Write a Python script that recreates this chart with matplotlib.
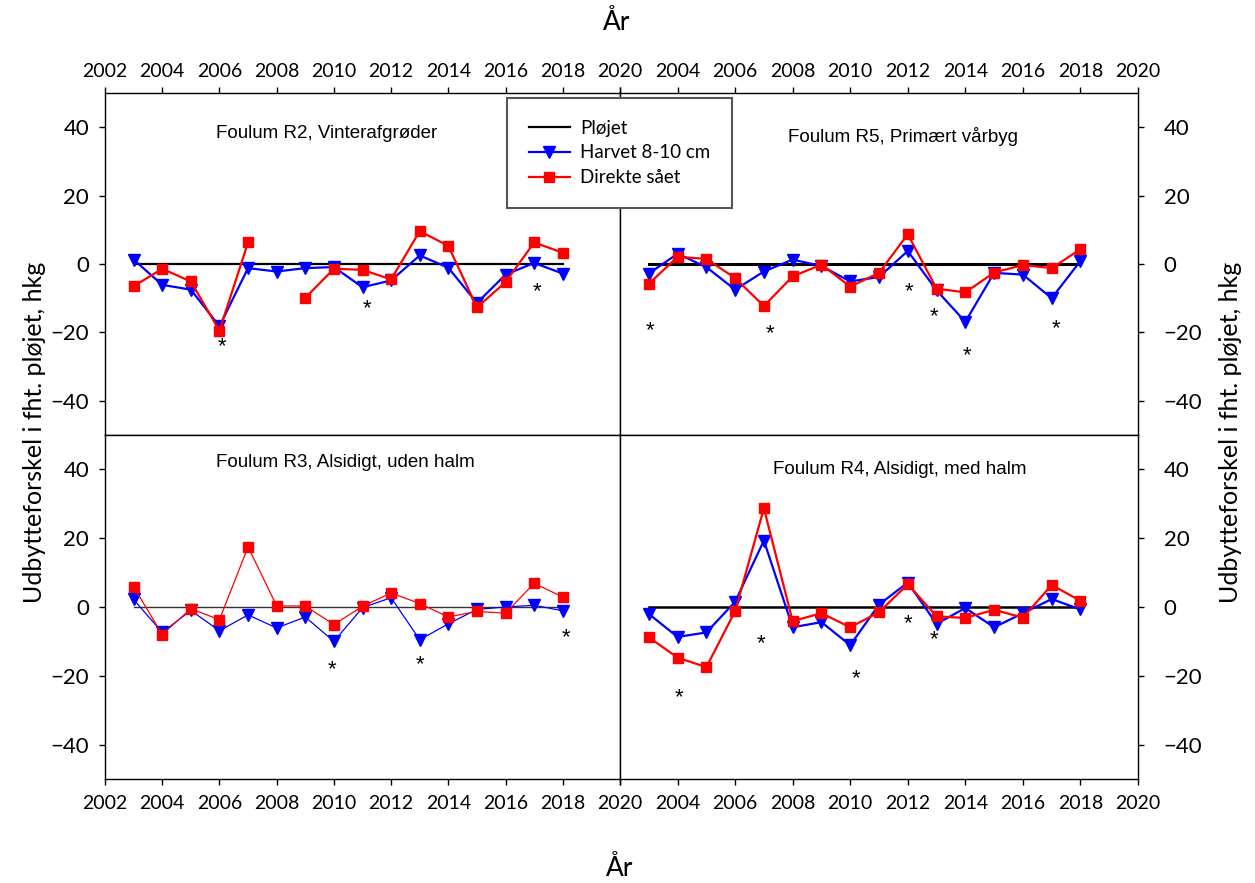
import numpy as np
import matplotlib
matplotlib.use("Agg")
import matplotlib.pyplot as plt
from matplotlib.lines import Line2D

# ---------------------------------------------------------------
# Data
# ---------------------------------------------------------------
years = np.arange(2003, 2019)
nan = np.nan

r2_harvet = [1.3, -6.1, -7.5, -18.2, -1.2, -2.2, -1.2, -0.9, -6.8, -4.8, 2.5, -1.1, -11.4, -3.1, 0.3, -2.8]
r2_direkte = [-6.5, -1.4, -5.1, -19.5, 6.3, nan, -9.9, -1.4, -1.7, -4.5, 9.6, 5.3, -12.7, -5.3, 6.3, 3.3]

r5_harvet = [-2.8, 3.0, -0.9, -7.5, -2.2, 1.3, -0.6, -5.1, -3.8, 3.8, -7.7, -16.9, -2.6, -3.1, -10.0, 0.9]
r5_direkte = [-5.8, 2.1, 1.5, -4.1, -12.3, -3.6, -0.2, -6.6, -2.6, 8.7, -7.2, -8.3, -2.5, -0.3, -1.2, 4.3]

r3_harvet = [2.2, -7.4, -1.0, -6.9, -2.3, -6.1, -2.9, -10.0, -0.2, 2.7, -9.5, -4.9, -0.7, 0.0, 0.5, -1.1]
r3_direkte = [5.9, -8.0, -0.5, -3.7, 17.5, 0.3, 0.3, -5.1, 0.2, 4.1, 1.0, -2.9, -1.3, -1.8, 6.9, 2.9]

r4_harvet = [-2.0, -8.7, -7.4, 1.5, 19.3, -5.9, -4.4, -11.1, 0.7, 7.1, -4.9, -0.3, -5.9, -1.8, 2.3, -0.7]
r4_direkte = [-8.8, -14.7, -17.5, -1.2, 28.7, -4.1, -1.8, -5.9, -1.5, 6.6, -2.7, -3.2, -0.8, -3.1, 6.4, 1.8]

# significance stars (year, value)
r2_stars = [(2006.1, -24.2), (2011.15, -13.1), (2017.1, -8.2)]
r5_stars = [(2003.05, -19.5), (2007.2, -20.5), (2012.05, -8.0), (2012.9, -15.4), (2014.05, -26.9), (2017.15, -18.8)]
r3_stars = [(2009.95, -18.3), (2013.0, -16.9), (2018.1, -9.0)]
r4_stars = [(2004.05, -26.3), (2006.9, -10.8), (2010.2, -20.9), (2012.0, -4.9), (2012.9, -9.5)]

titles = ["Foulum R2, Vinterafgrøder", "Foulum R5, Primært vårbyg",
          "Foulum R3, Alsidigt, uden halm", "Foulum R4, Alsidigt, med halm"]
legend_labels = ["Pløjet", "Harvet 8-10 cm", "Direkte sået"]

xticks = np.arange(2002, 2021, 2)
yticks = np.arange(-40, 41, 20)

GEO = "Lato"
ARIAL = "Liberation Sans"

# ---------------------------------------------------------------
# Figure
# ---------------------------------------------------------------
fig = plt.figure(figsize=(12.55, 8.83), dpi=100)

W, H = 1255, 883
def ax_at(x0, x1, y0, y1):
    return fig.add_axes([x0 / W, 1 - y1 / H, (x1 - x0) / W, (y1 - y0) / H])

ax_r2 = ax_at(105, 620, 93, 435)
ax_r5 = ax_at(620, 1138, 93, 435)
ax_r3 = ax_at(105, 620, 435, 779)
ax_r4 = ax_at(620, 1138, 435, 779)

panels = [
    (ax_r2, r2_harvet, r2_direkte, r2_stars, titles[0], 1.6, "black", 1.6, (0.2155, 0.883, "left")),
    (ax_r5, r5_harvet, r5_direkte, r5_stars, titles[1], 1.6, "black", 2.2, (0.546, 0.874, "center")),
    (ax_r3, r3_harvet, r3_direkte, r3_stars, titles[2], 0.9, "#333333", 1.0, (0.2155, 0.919, "left")),
    (ax_r4, r4_harvet, r4_direkte, r4_stars, titles[3], 1.6, "black", 1.8, (0.54, 0.901, "center")),
]

for ax, harvet, direkte, stars, title, lw, zc, zlw, (tx, ty, ha) in panels:
    ax.plot(years, np.zeros(len(years)), color=zc, lw=zlw, zorder=2)
    ax.plot(years, harvet, color="blue", lw=lw, marker="v", ms=8,
            markeredgecolor="blue", zorder=3)
    ax.plot(years, direkte, color="red", lw=lw, marker="s", ms=7.2,
            markeredgecolor="red", zorder=4)
    for sx, sy in stars:
        ax.text(sx, sy, "*", ha="center", va="center", fontsize=16,
                family=ARIAL, color="black")
    ax.text(tx, ty, title, transform=ax.transAxes, ha=ha, va="center",
            fontsize=13.5, family=ARIAL)

    ax.set_xlim(2002, 2020)
    ax.set_ylim(-50, 50)
    ax.set_xticks(xticks)
    ax.set_yticks(yticks)
    for s in ax.spines.values():
        s.set_linewidth(1.0)
    ax.tick_params(direction="out", length=4.5, width=1.0, color="black")

# top row: x labels on top
for ax in (ax_r2, ax_r5):
    ax.tick_params(axis="x", bottom=False, labelbottom=False, top=True, labeltop=True,
                   labelsize=14, pad=5)
# bottom row: x labels on bottom
for ax in (ax_r3, ax_r4):
    ax.tick_params(axis="x", bottom=True, labelbottom=True, top=False, labeltop=False,
                   labelsize=14, pad=7)
# left column
for ax in (ax_r2, ax_r3):
    ax.tick_params(axis="y", left=True, labelleft=True, right=False, labelsize=16, pad=7)
# right column
for ax in (ax_r5, ax_r4):
    ax.tick_params(axis="y", left=False, labelleft=False, right=True, labelright=True,
                   labelsize=16, pad=14)
    ax.set_xticklabels([""] + [str(t) for t in xticks[1:]])

for ax in (ax_r2, ax_r5, ax_r3, ax_r4):
    for lab in ax.get_xticklabels() + ax.get_yticklabels():
        lab.set_family(GEO)

# axis labels
fig.text(617 / W, 1 - 22 / H, "År", ha="center", va="center", fontsize=19, family=GEO)
fig.text(620 / W, 1 - 868 / H, "År", ha="center", va="center", fontsize=19, family=GEO)
ylab = "Udbytteforskel i fht. pløjet, hkg"
fig.text(35 / W, 1 - 432 / H, ylab, rotation=90, ha="center", va="center",
         fontsize=18, family=GEO)
fig.text(1230 / W, 1 - 432 / H, ylab, rotation=90, ha="center", va="center",
         fontsize=18, family=GEO)

# legend spanning both top panels
handles = [
    Line2D([], [], color="black", lw=1.6),
    Line2D([], [], color="blue", lw=1.6, marker="v", ms=8),
    Line2D([], [], color="red", lw=1.6, marker="s", ms=7.2),
]
leg = fig.legend(handles, legend_labels, loc="upper left",
                 bbox_to_anchor=(507 / W, 1 - 98 / H), borderaxespad=0.0,
                 fancybox=False, prop={"family": GEO, "size": 13.5},
                 handlelength=2.2, borderpad=1.15, labelspacing=0.42,
                 handletextpad=0.55, framealpha=1.0)
leg.get_frame().set_edgecolor("#555555")
leg.get_frame().set_linewidth(1.5)

fig.savefig("out.png", dpi=100)
